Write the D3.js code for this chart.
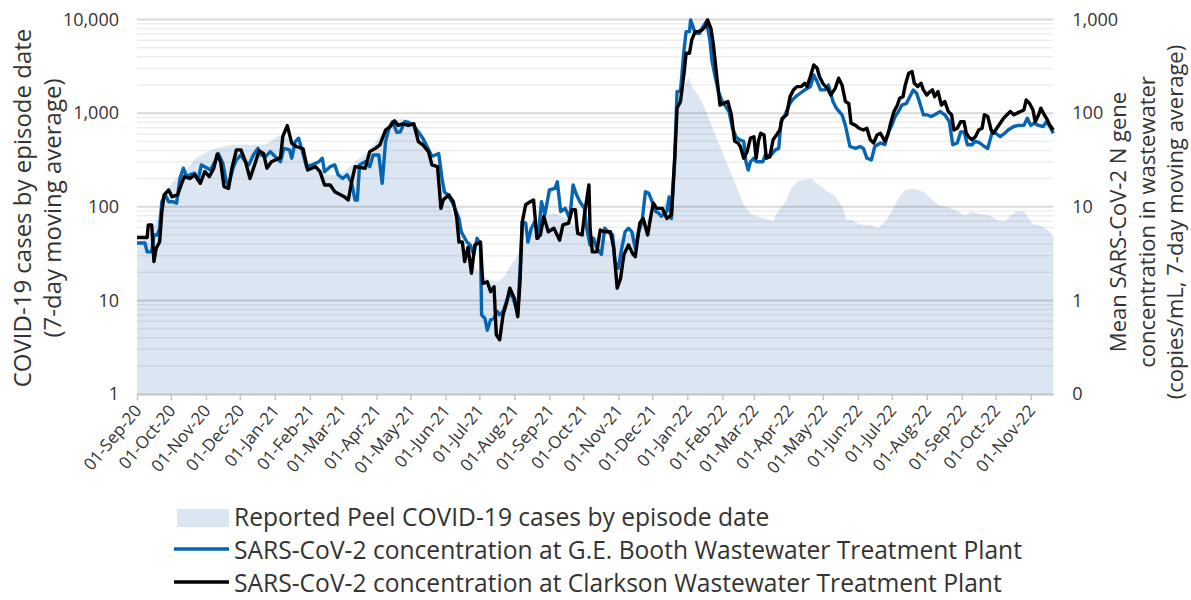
<!DOCTYPE html>
<html>
<head>
<meta charset="utf-8">
<script src="https://cdn.jsdelivr.net/npm/d3@7"></script>
<style>
  body { margin:0; background:#fff; }
  text { font-family: "Open Sans", "Noto Sans", sans-serif; fill:#333; }
</style>
</head>
<body>
<div id="chart"></div>
<script>
// [days since 01-Sep-20, value]
// cases on the left axis, wastewater (copies/mL) on the right axis
const cases = [[0,42],[5,44],[10,48],[14,58],[17,69],[21,100],[24,130],[27,157],[32,185],[38,219],[45,258],[52,330],[60,372],[70,421],[80,450],[90,460],[100,460],[110,460],[115,475],[120,520],[125,575],[130,580],[135,520],[140,440],[147,357],[155,280],[162,237],[170,219],[177,219],[183,237],[190,280],[197,330],[204,390],[210,475],[216,585],[222,718],[228,826],[234,870],[240,850],[246,736],[252,605],[258,460],[264,303],[270,185],[275,120],[280,80],[285,52],[290,36],[295,27],[300,22],[305,19],[310,17],[315,16],[320,16],[325,18],[330,23],[335,28],[340,36],[345,46],[350,56],[355,66],[360,76],[365,84],[370,85],[375,80],[380,74],[385,67],[390,60],[395,55],[400,50],[410,45],[420,43],[430,47],[440,54],[448,66],[455,80],[460,90],[465,100],[469,120],[472,150],[475,330],[478,800],[481,1350],[484,1900],[488,2380],[492,1850],[496,1600],[501,1250],[507,820],[513,540],[519,360],[525,240],[531,160],[537,106],[543,84],[550,78],[556,75],[563,70],[567,88],[574,113],[579,157],[585,190],[591,193],[597,200],[601,180],[609,151],[618,129],[624,100],[628,72],[633,72],[639,66],[645,64],[650,64],[656,59],[662,69],[668,89],[674,123],[680,151],[686,157],[692,151],[698,139],[704,118],[710,103],[715,100],[721,96],[727,89],[733,80],[739,89],[745,84],[751,82],[757,78],[763,70],[768,70],[774,82],[779,89],[785,89],[789,76],[793,65],[798,64],[804,59],[808,54],[811,47]];

const booth = [[0,4.1],[7,4.1],[9,3.3],[13,3.3],[15,5.0],[18,5.0],[20,5.9],[22,11.3],[25,13.4],[28,11.3],[32,11.3],[35,10.9],[38,20],[41,25.8],[44,21],[47,22],[51,22.8],[54,19.3],[57,28],[60,26.8],[65,24.7],[69,30.3],[72,37],[76,29],[79,18.5],[81,17.1],[85,25.8],[88,31.6],[92,35.7],[96,30.3],[99,28],[103,35.7],[107,42],[110,35.7],[114,34.6],[118,38.8],[122,34.6],[127,30.3],[130,42],[135,40.5],[137,33],[140,49.6],[143,54],[146,40.5],[150,26.8],[155,28],[161,30.3],[164,33],[166,23.7],[171,26.8],[175,28],[178,22],[182,20],[186,22],[190,17.8],[193,11.8],[195,11.8],[197,28],[202,30.3],[206,26.8],[209,35.7],[214,35.7],[217,17.8],[220,49.6],[223,69],[226,81],[230,62.5],[233,63],[237,81],[240,80],[245,74],[249,63],[253,54],[256,45.7],[261,34.6],[264,35.7],[267,37],[270,20],[272,14.5],[275,13.4],[280,10.5],[285,7.5],[287,5.4],[292,4.2],[295,3.9],[298,3.1],[301,4.6],[304,3.9],[305,0.70],[308,0.64],[310,0.48],[313,0.62],[316,0.64],[319,0.76],[321,0.70],[324,0.76],[327,0.97],[330,1.24],[333,1.05],[337,0.73],[339,2.2],[341,6.9],[344,6.7],[346,4.2],[349,5.9],[352,6.9],[355,4.6],[358,11.3],[361,8.2],[365,15.1],[370,15.7],[372,18.5],[375,8.9],[379,9.6],[383,7.5],[386,17.1],[389,13.4],[392,11.3],[396,9.6],[398,5.9],[401,3.9],[404,4.6],[407,3.6],[411,3.1],[414,5.9],[417,5.4],[421,5.0],[423,2.6],[426,2.2],[429,3.6],[432,5.4],[435,5.9],[438,5.4],[441,3.6],[444,5.4],[447,6.9],[450,14.5],[453,13.9],[456,11.3],[459,8.9],[462,8.5],[464,7.9],[469,8.9],[471,12.7],[473,7.5],[476,35.7],[478,170],[481,170],[484,454],[486,743],[489,743],[490,990],[493,774],[495,713],[498,713],[501,840],[504,951],[507,605],[509,356],[512,236],[515,163],[518,133],[521,118],[524,104],[527,69],[530,56],[533,52],[537,50],[539,30],[541,24.7],[543,30.3],[546,33],[548,30.3],[551,30.3],[554,30.3],[556,35.7],[560,34.6],[565,40.5],[568,42],[570,81],[573,92],[577,122],[580,138],[583,150],[587,163],[591,177],[596,192],[599,256],[602,217],[605,177],[609,177],[612,200],[616,133],[619,113],[624,96],[627,74],[631,44],[636,42],[640,44],[643,42],[646,33],[650,31.6],[653,44],[658,48],[662,46],[665,63],[668,74],[671,92],[674,104],[677,122],[681,127],[684,150],[687,177],[690,163],[693,127],[696,96],[699,96],[703,92],[706,96],[711,104],[715,96],[719,81],[722,46],[726,48],[729,63],[732,63],[735,46],[739,46],[742,50],[746,48],[750,44],[753,42],[757,63],[760,61],[764,56],[768,61],[771,66],[776,72],[780,74],[785,74],[788,88],[791,74],[794,78],[798,74],[802,72],[805,81],[808,72],[811,61]];

const clarkson = [[0,4.7],[9,4.7],[10,6.4],[13,6.4],[15,2.6],[17,3.6],[20,4.2],[22,8.9],[24,13.4],[28,15.1],[31,12.8],[36,13.4],[39,17.1],[42,21],[47,20],[51,22],[56,17.8],[60,23.7],[64,21],[68,25.8],[71,36.4],[74,30.3],[77,16.4],[81,15.7],[84,25.8],[88,40.5],[92,40.5],[96,30.3],[100,20],[105,30.3],[108,39.5],[112,37],[115,25.8],[119,30.3],[127,33.5],[129,56],[133,73.6],[137,47.6],[141,44],[147,41.5],[151,24.7],[158,26.8],[162,23.7],[166,17.1],[171,17.1],[175,14.5],[183,12.9],[187,11.8],[190,18.5],[193,26.8],[202,25.8],[206,38.8],[211,42],[215,45.7],[220,66],[224,71.8],[228,82.6],[231,74],[236,77],[240,74],[245,77],[249,49.6],[253,45.7],[258,38.8],[261,28],[266,26.8],[269,9.6],[271,11.8],[276,13.4],[280,11.3],[283,7.5],[285,4.2],[288,4.2],[290,2.6],[293,3.7],[296,1.95],[299,3.9],[304,4.2],[306,1.52],[310,1.58],[313,1.24],[316,1.4],[318,0.43],[321,0.38],[324,0.7],[327,0.93],[330,1.35],[334,1.05],[337,0.67],[339,1.58],[341,6.9],[344,10.5],[348,11.3],[351,11.8],[354,4.6],[357,5.0],[360,7.9],[364,5.4],[369,5.9],[374,4.4],[377,6.4],[382,6.7],[385,9.3],[388,9.3],[390,5.2],[394,5.0],[396,8.2],[400,17.1],[401,5.9],[403,3.3],[407,3.3],[410,5.65],[414,5.4],[419,5.4],[422,3.6],[425,1.35],[428,1.72],[431,3.1],[435,3.9],[439,3.1],[441,2.93],[445,6.7],[448,7.5],[452,5.0],[455,8.2],[457,10.9],[460,9.6],[465,9.6],[469,7.5],[473,8.2],[476,33],[478,113],[481,133],[484,256],[486,436],[489,436],[491,605],[494,743],[497,743],[500,774],[503,840],[505,990],[508,800],[510,558],[513,256],[516,122],[519,127],[523,133],[526,96],[529,50],[532,48],[534,44],[537,33],[540,38.8],[543,54],[546,56],[548,33],[550,50],[552,61],[555,58.5],[557,33],[560,34],[563,52],[566,58.5],[569,66],[571,88],[575,96],[578,150],[581,177],[584,192],[588,192],[591,208],[593,192],[596,246],[599,327],[602,301],[604,246],[607,208],[611,184],[614,156],[618,184],[621,236],[624,200],[627,133],[630,127],[632,78],[636,74],[639,69],[643,66],[646,69],[649,52],[652,48],[655,58.5],[658,61],[662,50],[665,61],[667,78],[670,104],[673,122],[675,144],[678,150],[680,200],[683,267],[686,278],[688,208],[691,192],[694,208],[696,177],[699,156],[702,170],[704,177],[706,150],[709,170],[712,122],[715,133],[718,104],[721,96],[723,66],[726,69],[729,81],[732,81],[734,61],[736,56],[739,52],[742,56],[745,66],[748,69],[750,96],[753,92],[756,66],[758,61],[761,69],[764,78],[767,88],[770,96],[773,104],[776,96],[779,100],[782,104],[785,108],[787,138],[790,127],[793,108],[795,81],[798,96],[800,113],[803,96],[805,88],[808,74],[811,66]];

const leftTicks = [1, 10, 100, 1000, 10000];
const rightTicks = [0.1, 1, 10, 100, 1000];

const w = 1191, h = 600;
const pLeft = 137, pRight = 1053.3, pTop = 19.5, pBottom = 394;
const start = new Date(2020, 8, 1);
const day = n => d3.timeDay.offset(start, n);

const svg = d3.select("#chart").append("svg").attr("width", w).attr("height", h);

const x = d3.scaleTime().domain([start, new Date(2022, 10, 21)]).range([pLeft, pRight]);
const yL = d3.scaleLog().domain([1, 10000]).range([pBottom, pTop]);
const yR = d3.scaleLog().domain([0.1, 1000]).range([pBottom, pTop]);

// area first, gridlines go on top of it
svg.append("path")
  .datum(cases)
  .attr("fill", "#dce6f2")
  .attr("d", d3.area().x(d => x(day(d[0]))).y0(pBottom).y1(d => yL(d[1])));

// gridlines: thin for 2..9, thicker for the decades
svg.append("g").selectAll("line")
  .data(yL.ticks().filter(t => t > 1))
  .enter().append("line")
  .attr("x1", pLeft).attr("x2", pRight)
  .attr("y1", d => yL(d)).attr("y2", d => yL(d))
  .attr("stroke", d => Number.isInteger(Math.log10(d)) ? "rgba(0,0,0,0.15)" : "rgba(0,0,0,0.07)")
  .attr("stroke-width", d => Number.isInteger(Math.log10(d)) ? 2 : 1.5);

// x axis, one tick a month
const gx = svg.append("g").attr("transform", `translate(0,${pBottom})`)
  .call(d3.axisBottom(x).ticks(d3.timeMonth.every(1))
    .tickFormat(d3.timeFormat("%d-%b-%y")).tickSize(6).tickSizeOuter(0));
gx.select(".domain").attr("stroke", "#c4c4c4").attr("stroke-width", 2);
gx.selectAll(".tick line").attr("stroke", "#c4c4c4").attr("stroke-width", 1.5);
gx.selectAll(".tick text")
  .style("font-size", "17px").attr("fill", "#333")
  .attr("text-anchor", "end")
  .attr("dy", 0).attr("y", 0)
  .attr("transform", "translate(5,17) rotate(-50)");

const gy = svg.append("g").attr("transform", `translate(${pLeft},0)`)
  .call(d3.axisLeft(yL).tickValues(leftTicks).tickFormat(d3.format(",")).tickSize(0).tickPadding(18));
gy.select(".domain").remove();
gy.selectAll("text").style("font-size", "18px").attr("fill", "#333");

const gy2 = svg.append("g").attr("transform", `translate(${pRight},0)`)
  .call(d3.axisRight(yR).tickValues(rightTicks)
    .tickFormat(d => d < 1 ? "0" : d3.format(",")(d)).tickSize(0).tickPadding(19));
gy2.select(".domain").remove();
gy2.selectAll("text").style("font-size", "18px").attr("fill", "#333");

// the two wastewater plants
const line = d3.line().x(d => x(day(d[0]))).y(d => yR(d[1]));
svg.append("path").datum(booth)
  .attr("fill", "none").attr("stroke", "#0565b2").attr("stroke-width", 3.4)
  .attr("stroke-linejoin", "round").attr("d", line);
svg.append("path").datum(clarkson)
  .attr("fill", "none").attr("stroke", "#000").attr("stroke-width", 3.4)
  .attr("stroke-linejoin", "round").attr("d", line);

// axis titles
const lt = svg.append("text").attr("transform", "translate(31,208) rotate(-90)")
  .attr("text-anchor", "middle").style("font-size", "24px");
lt.append("tspan").attr("x", 0).attr("y", 0).text("COVID-19 cases by episode date");
lt.append("tspan").attr("x", 0).attr("y", 30).text("(7-day moving average)");

const rt = svg.append("text").attr("transform", "translate(1126,222) rotate(-90)")
  .attr("text-anchor", "middle").style("font-size", "22px");
rt.append("tspan").attr("x", 0).attr("y", 0).text("Mean SARS-CoV-2 N gene");
rt.append("tspan").attr("x", 0).attr("y", 29).text("concentration in wastewater");
rt.append("tspan").attr("x", 0).attr("y", 57).text("(copies/mL, 7-day moving average)");

// legend
const lg = svg.append("g");
lg.append("rect").attr("x", 177).attr("y", 509).attr("width", 52).attr("height", 18).attr("fill", "#dce6f2");
lg.append("line").attr("x1", 174).attr("x2", 229).attr("y1", 549).attr("y2", 549)
  .attr("stroke", "#0565b2").attr("stroke-width", 3.4);
lg.append("line").attr("x1", 174).attr("x2", 229).attr("y1", 582).attr("y2", 582)
  .attr("stroke", "#000").attr("stroke-width", 3.4);
const labels = ["Reported Peel COVID-19 cases by episode date",
  "SARS-CoV-2 concentration at G.E. Booth Wastewater Treatment Plant",
  "SARS-CoV-2 concentration at Clarkson Wastewater Treatment Plant"];
lg.selectAll("text.lab").data(labels).enter().append("text")
  .attr("class", "lab")
  .attr("x", 234).attr("y", (d, i) => 526 + i * 33)
  .style("font-size", "24.6px")
  .text(d => d);
</script>
</body>
</html>
